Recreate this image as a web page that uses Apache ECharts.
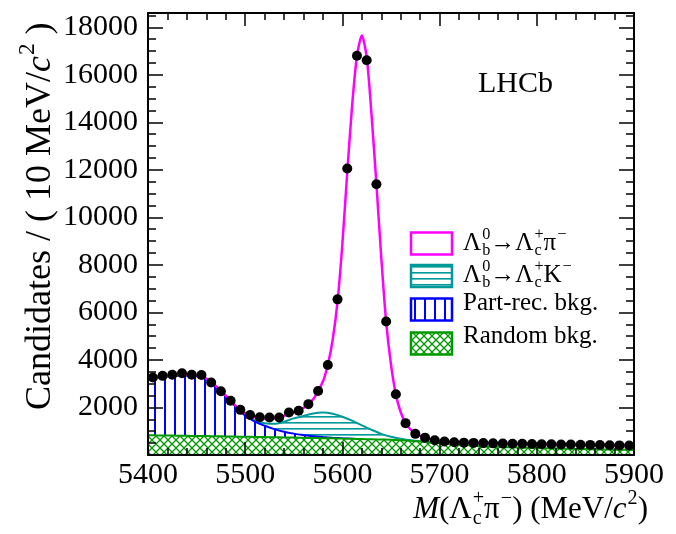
<!DOCTYPE html>
<html>
<head>
<meta charset="utf-8">
<script src="https://cdn.jsdelivr.net/npm/echarts@6/dist/echarts.min.js"></script>
<style>html,body{margin:0;padding:0;background:#fff}#c{width:676px;height:534px}</style>
</head>
<body>
<div id="c"></div>
<script>
// ---------------- data ----------------
const binCenters = [5405,5415,5425,5435,5445,5455,5465,5475,5485,5495,
  5505,5515,5525,5535,5545,5555,5565,5575,5585,5595,
  5605,5615,5625,5635,5645,5655,5665,5675,5685,5695,
  5705,5715,5725,5735,5745,5755,5765,5775,5785,5795,
  5805,5815,5825,5835,5845,5855,5865,5875,5885,5895];
const counts = [3265,3330,3380,3440,3380,3370,3050,2680,2280,1900,
  1680,1585,1580,1580,1790,1860,2140,2690,3790,6550,
  12060,16800,16610,11390,5620,2560,1340,890,730,620,
  570,540,520,510,500,490,480,475,470,460,
  455,450,445,440,430,425,420,410,405,400];

const compMass = [5400,5410,5420,5430,5440,5450,5460,5470,5480,5490,
  5500,5510,5520,5530,5540,5550,5560,5570,5580,5590,
  5600,5610,5620,5630,5640,5650,5660,5670,5680,5690,
  5700,5710,5720,5730,5740,5750,5760,5770,5780,5790,
  5800,5810,5820,5830,5840,5850,5860,5870,5880,5890,5900];
const randomBkg = [830,825,820,815,808,800,795,790,783,776,
  770,762,755,748,740,732,724,716,708,700,
  690,680,670,660,650,640,620,595,565,530,
  495,460,430,405,382,362,345,330,316,304,
  293,283,273,264,256,248,240,233,226,219,212];
const partRec = [2370,2435,2480,2515,2532,2510,2385,2060,1677,1264,
  880,638,475,342,240,168,116,74,47,25,
  12,5,0,null,null,null,null,null,null,null,
  null,null,null,null,null,null,null,null,null,null,
  null,null,null,null,null,null,null,null,null,null,null];
const lcK = [null,null,null,null,null,null,null,null,null,null,
  20,50,110,220,420,640,800,960,1030,1010,
  910,760,580,400,240,130,65,30,12,5,
  0,null,null,null,null,null,null,null,null,null,
  null,null,null,null,null,null,null,null,null,null,null];

const fitMass = [5400,5410,5420,5430,5440,5450,5460,5470,5480,5490,
  5500,5510,5520,5530,5540,5550,5560,5570,5580,5585,
  5590,5595,5600,5605,5610,5615,5620,5625,5630,5635,
  5640,5645,5650,5655,5660,5665,5670,5680,5690,5700,
  5710,5720,5730,5740,5750,5760,5770,5780,5790,5800,
  5820,5840,5860,5880,5900];
const fitTotal = [3240,3300,3340,3370,3380,3350,3220,2900,2500,2080,
  1760,1590,1540,1560,1650,1790,1980,2350,3100,3800,
  4850,6450,8900,11900,14700,16800,17650,16750,14300,11400,
  8300,5600,3800,2550,1800,1350,1080,800,670,600,
  560,535,518,505,495,485,477,470,462,455,
  445,433,422,410,400];

const xTickValues = [5400,5500,5600,5700,5800,5900];
const yTickValues = [2000,4000,6000,8000,10000,12000,14000,16000,18000];

// cumulative (stacked) component curves built from the arrays above
const cumRandom = randomBkg.slice();
const cumPartRec = partRec.map((v, i) => v == null ? null : randomBkg[i] + v);
const cumLcK = lcK.map((v, i) => v == null ? null : randomBkg[i] + (partRec[i] || 0) + v);

// ---------------- helpers ----------------
const FF = '"Liberation Serif","Times New Roman",serif';
const mctx = document.createElement('canvas').getContext('2d');
function tw(t, size, it) { mctx.font = (it ? 'italic ' : '') + size + 'px ' + FF; return mctx.measureText(t).width; }
function mkText(t, x, y, sz, it) {
  return {type: 'text', x: x, y: y, z: 100, style: {text: t, font: (it ? 'italic ' : '') + sz + 'px ' + FF, fill: '#000',
    textAlign: 'left', align: 'left', textVerticalAlign: 'middle', verticalAlign: 'middle'}};
}
function richText(segs, size) {
  const els = []; let x = 0; const ss = size * 0.65;
  for (const s of segs) {
    if (s.k === 'n') { els.push(mkText(s.t, x, 0, size, s.it)); x += tw(s.t, size, s.it); }
    else if (s.k === 'sup') { els.push(mkText(s.t, x + 1, -0.36 * size, ss, s.it)); x += tw(s.t, ss, s.it) + 1; }
    else if (s.k === 'ss') {
      els.push(mkText(s.sub, x + 1, 0.3 * size, ss));
      els.push(mkText(s.sup, x + 1, -0.36 * size, ss));
      x += Math.max(tw(s.sub, ss), tw(s.sup, ss)) + 1;
    }
  }
  return {els: els, width: x};
}
function pattern(kind, color) {
  const c = document.createElement('canvas');
  const g = c.getContext('2d');
  if (kind === 'v') { c.width = 10; c.height = 4; g.fillStyle = '#fff'; g.fillRect(0, 0, 10, 4); g.fillStyle = color; g.fillRect(4, 0, 2, 4); }
  else if (kind === 'h') { c.width = 4; c.height = 6; g.fillStyle = '#fff'; g.fillRect(0, 0, 4, 6); g.fillStyle = color; g.fillRect(0, 2, 4, 1.6); }
  else {
    c.width = 8; c.height = 8; g.fillStyle = '#fff'; g.fillRect(0, 0, 8, 8);
    g.strokeStyle = color; g.lineWidth = 1.3;
    g.beginPath(); g.moveTo(-1, -1); g.lineTo(9, 9); g.moveTo(9, -1); g.lineTo(-1, 9); g.stroke();
  }
  return {image: c, repeat: 'repeat'};
}
const C_SIG = '#ff00ff', C_K = '#009999', C_PR = '#0000ff', C_RND = '#009900';

// ---------------- axes ----------------
function xAx(pos, interval, len, labels, line) {
  return {type: 'value', position: pos, min: 5400, max: 5900, interval: interval, z: 10,
    axisLine: {show: !!line, onZero: false, lineStyle: {color: '#000', width: 2}},
    axisTick: {show: true, inside: true, length: len, lineStyle: {color: '#000', width: 1.5}},
    axisLabel: labels ? {show: true, margin: 5, fontSize: 30, fontFamily: FF, color: '#000',
      formatter: v => xTickValues.indexOf(v) >= 0 ? String(v) : ''} : {show: false},
    splitLine: {show: false}};
}
function yAx(pos, interval, len, labels, line) {
  return {type: 'value', position: pos, min: 0, max: 18600, interval: interval, z: 10,
    axisLine: {show: !!line, onZero: false, lineStyle: {color: '#000', width: 2}},
    axisTick: {show: true, inside: true, length: len, lineStyle: {color: '#000', width: 1.5}},
    axisLabel: labels ? {show: true, margin: 10, fontSize: 30, fontFamily: FF, color: '#000',
      formatter: v => yTickValues.indexOf(v) >= 0 ? String(v) : ''} : {show: false},
    splitLine: {show: false}};
}

// ---------------- titles / legend ----------------
const ytitle = richText([
  {k: 'n', t: 'Candidates / ( 10 MeV/'}, {k: 'n', t: 'c', it: true}, {k: 'sup', t: '2'}, {k: 'n', t: ' )'}
], 36);
const xtitle = richText([
  {k: 'n', t: 'M', it: true}, {k: 'n', t: '('}, {k: 'n', t: 'Λ'}, {k: 'ss', sub: 'c', sup: '+'},
  {k: 'n', t: 'π'}, {k: 'sup', t: '−'}, {k: 'n', t: ') (MeV/'}, {k: 'n', t: 'c', it: true}, {k: 'sup', t: '2'}, {k: 'n', t: ')'}
], 31);
const legItems = [
  {segs: [{k: 'n', t: 'Λ'}, {k: 'ss', sub: 'b', sup: '0'}, {k: 'n', t: '→Λ'}, {k: 'ss', sub: 'c', sup: '+'}, {k: 'n', t: 'π'}, {k: 'sup', t: '−'}],
   fill: '#fff', stroke: C_SIG, cy: 243.5, ty: 243.5},
  {segs: [{k: 'n', t: 'Λ'}, {k: 'ss', sub: 'b', sup: '0'}, {k: 'n', t: '→Λ'}, {k: 'ss', sub: 'c', sup: '+'}, {k: 'n', t: 'K'}, {k: 'sup', t: '−'}],
   fill: pattern('h', C_K), stroke: C_K, cy: 276, ty: 275.5},
  {segs: [{k: 'n', t: 'Part-rec. bkg.'}], fill: pattern('v', C_PR), stroke: C_PR, cy: 309.5, ty: 303.5},
  {segs: [{k: 'n', t: 'Random bkg.'}], fill: pattern('x', C_RND), stroke: C_RND, cy: 343.5, ty: 336.5}
];
const graphics = [];
graphics.push({type: 'group', x: 41, y: 410, rotation: Math.PI / 2, children: ytitle.els});
graphics.push({type: 'group', x: 648 - xtitle.width, y: 509.5, children: xtitle.els});
graphics.push(mkText('LHCb', 478, 84, 30, false));
for (const it of legItems) {
  graphics.push({type: 'rect', z: 100, shape: {x: 411, y: it.cy - 11, width: 41, height: 22},
    style: {fill: it.fill, stroke: it.stroke, lineWidth: 2.5}});
  const r = richText(it.segs, 25);
  graphics.push({type: 'group', x: 463, y: it.ty, children: r.els});
}

// ---------------- chart ----------------
const chart = echarts.init(document.getElementById('c'), null, {renderer: 'canvas'});
const pairs = (xs, ys) => xs.map((x, i) => [x, ys[i]]);
chart.setOption({
  animation: false,
  backgroundColor: '#fff',
  grid: {left: 148, top: 13, width: 486, height: 442, show: false},
  xAxis: [xAx('bottom', 100, 13, true, true), xAx('bottom', 20, 7, false), xAx('top', 100, 13, false, true), xAx('top', 20, 7, false)],
  yAxis: [yAx('left', 2000, 15, true, true), yAx('left', 500, 8, false), yAx('right', 2000, 15, false, true), yAx('right', 500, 8, false)],
  series: [
    {name: 'Lb->LcK', type: 'line', data: pairs(compMass, cumLcK), symbol: 'none', smooth: 0.3,
     lineStyle: {color: C_K, width: 2}, areaStyle: {color: pattern('h', C_K), opacity: 1}, z: 2},
    {name: 'Part-rec. bkg.', type: 'line', data: pairs(compMass, cumPartRec), symbol: 'none', smooth: 0.3,
     lineStyle: {color: C_PR, width: 2}, areaStyle: {color: pattern('v', C_PR), opacity: 1}, z: 3},
    {name: 'Random bkg.', type: 'line', data: pairs(compMass, cumRandom), symbol: 'none', smooth: 0.3,
     lineStyle: {color: C_RND, width: 2}, areaStyle: {color: pattern('x', C_RND), opacity: 1}, z: 4},
    {name: 'Lb->Lcpi', type: 'line', data: pairs(fitMass, fitTotal), symbol: 'none', smooth: 0.25,
     lineStyle: {color: C_SIG, width: 2.5}, z: 5},
    {name: 'Data', type: 'scatter', data: pairs(binCenters, counts), symbol: 'circle', symbolSize: 10,
     itemStyle: {color: '#000', opacity: 1}, z: 6}
  ],
  graphic: {elements: graphics}
});
</script>
</body>
</html>
